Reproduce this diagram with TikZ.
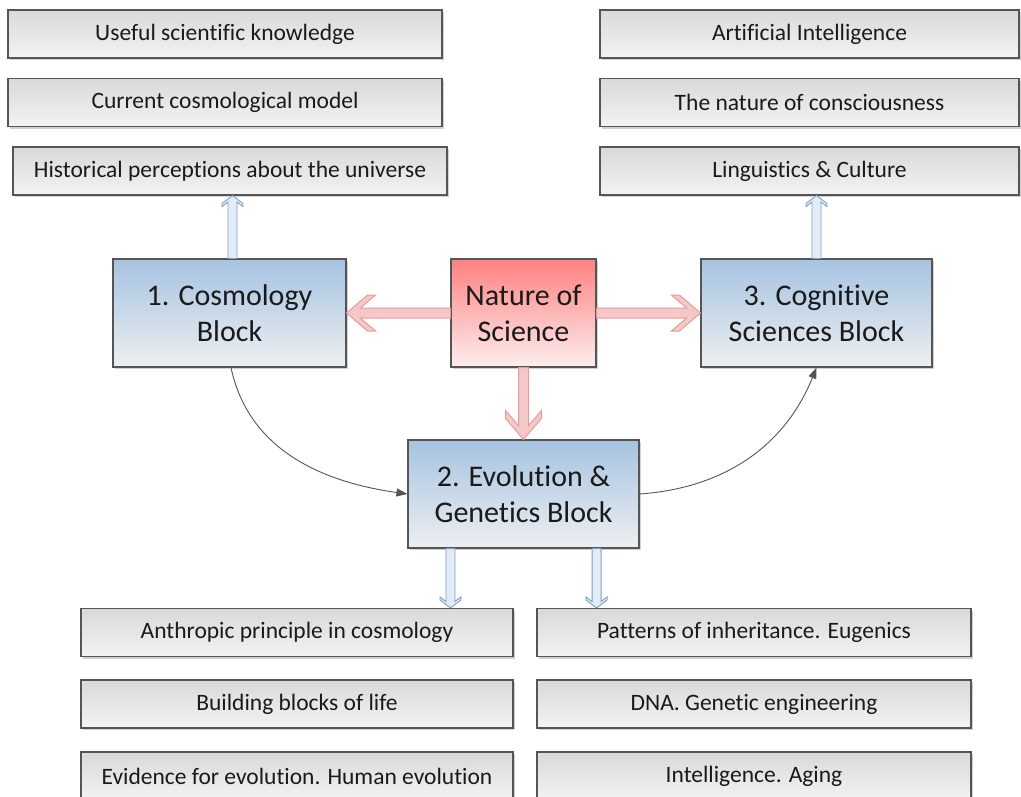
\documentclass[tikz,border=0pt]{standalone}
\usepackage{fontspec}
\setmainfont[Ligatures=NoCommon]{Carlito}
\usetikzlibrary{calc,arrows.meta,shadows}
\definecolor{boxline}{HTML}{555555}
\definecolor{itemtop}{HTML}{D9D9D9}
\definecolor{itembot}{HTML}{F3F3F3}
\definecolor{bluetop}{HTML}{A6C3E1}
\definecolor{bluebot}{HTML}{EDEFF1}
\definecolor{redtop}{HTML}{FF8080}
\definecolor{redbot}{HTML}{FCEEEE}
\definecolor{redline}{HTML}{E49C9C}
\definecolor{redfill}{HTML}{F5C8C8}
\definecolor{blueline}{HTML}{7C9EC8}
\definecolor{bluefill}{HTML}{E2ECF6}
\definecolor{curve}{HTML}{555555}
\definecolor{txt}{HTML}{1A1A1A}
\tikzset{
  base/.style={draw=boxline, line width=1.1pt, inner sep=0pt, anchor=center, text=txt,
    drop shadow={shadow xshift=2pt, shadow yshift=-2pt, opacity=0.18, fill=black}},
  itembox/.style={base, top color=itemtop, bottom color=itembot, minimum width=434pt,
    minimum height=48pt, font=\fontsize{23.5}{28}\selectfont},
  blockbox/.style={base, top color=bluetop, bottom color=bluebot, minimum width=231pt,
    minimum height=108pt, align=center, font=\fontsize{30}{36}\selectfont},
  natbox/.style={blockbox, top color=redtop, bottom color=redbot, minimum width=145pt},
  % fat chevron arrow: w=5, H=18, L=21, t=8
  redfat/.style={draw=redline, fill=redfill, line width=1pt,
    to path={
      ($(\tikztostart)!5pt!-90:(\tikztotarget)$)
      -- ($ ($(\tikztotarget)!13.83pt!(\tikztostart)$) !5pt!90:(\tikztostart) $)
      -- ($ ($(\tikztotarget)!29pt!(\tikztostart)$) !18pt!90:(\tikztostart) $)
      -- ($ ($(\tikztotarget)!21pt!(\tikztostart)$) !18pt!90:(\tikztostart) $)
      -- (\tikztotarget)
      -- ($ ($(\tikztotarget)!21pt!(\tikztostart)$) !18pt!-90:(\tikztostart) $)
      -- ($ ($(\tikztotarget)!29pt!(\tikztostart)$) !18pt!-90:(\tikztostart) $)
      -- ($ ($(\tikztotarget)!13.83pt!(\tikztostart)$) !5pt!-90:(\tikztostart) $)
      -- ($(\tikztostart)!5pt!90:(\tikztotarget)$)
      -- cycle}},
  % thin chevron arrow: w=4.5, H=10.5, L=8, t=3
  bluefat/.style={draw=blueline, fill=bluefill, line width=0.9pt,
    to path={
      ($(\tikztostart)!4.5pt!-90:(\tikztotarget)$)
      -- ($ ($(\tikztotarget)!6.43pt!(\tikztostart)$) !4.5pt!90:(\tikztostart) $)
      -- ($ ($(\tikztotarget)!11pt!(\tikztostart)$) !10.5pt!90:(\tikztostart) $)
      -- ($ ($(\tikztotarget)!8pt!(\tikztostart)$) !10.5pt!90:(\tikztostart) $)
      -- (\tikztotarget)
      -- ($ ($(\tikztotarget)!8pt!(\tikztostart)$) !10.5pt!-90:(\tikztostart) $)
      -- ($ ($(\tikztotarget)!11pt!(\tikztostart)$) !10.5pt!-90:(\tikztostart) $)
      -- ($ ($(\tikztotarget)!6.43pt!(\tikztostart)$) !4.5pt!-90:(\tikztostart) $)
      -- ($(\tikztostart)!4.5pt!90:(\tikztotarget)$)
      -- cycle}},
  flow/.style={draw=curve, line width=0.9pt, -{Triangle[length=11pt,width=8pt]}},
}
\begin{document}
\begin{tikzpicture}[x=1pt,y=1pt]
\useasboundingbox (0,0) rectangle (1021,-796);
% top left items
\node[itembox] (sk1) at (225,-34) {Useful scientific knowledge};
\node[itembox] (sk2) at (225,-102.5) {Current cosmological model};
\node[itembox] (sk3) at (230,-171) {Historical perceptions about the universe};
% top right items
\node[itembox, minimum width=419pt] (ai) at (809.5,-34) {Artificial Intelligence};
\node[itembox, minimum width=419pt] (nc) at (809.5,-102.5) {The nature of consciousness};
\node[itembox, minimum width=419pt] (lc) at (809.5,-171) {Linguistics \& Culture};
% blocks
\node[blockbox, minimum width=233pt] (cos) at (229.5,-313) {1. Cosmology\\Block};
\node[natbox] (nat) at (523.5,-313) {Nature of\\Science};
\node[blockbox] (cog) at (816.5,-313) {3. Cognitive\\Sciences Block};
\node[blockbox] (evo) at (523.5,-494) {2. Evolution \&\\Genetics Block};
% bottom items
\node[itembox, minimum width=432pt] (b1) at (297,-632.5) {Anthropic principle in cosmology};
\node[itembox, minimum width=432pt] (b2) at (297,-704) {Building blocks of life};
\node[itembox, minimum width=432pt] (b3) at (297,-776) {Evidence for evolution. Human evolution};
\node[itembox, minimum width=434pt] (c1) at (754,-632.5) {Patterns of inheritance. Eugenics};
\node[itembox, minimum width=434pt] (c2) at (754,-704) {DNA. Genetic engineering};
\node[itembox, minimum width=434pt] (c3) at (754,-776) {Intelligence. Aging};
% arrows from Nature of Science
\path[redfat] (nat.west) to (cos.east);
\path[redfat] (nat.east) to (cog.west);
\path[redfat] (nat.south) to (evo.north);
% thin block arrows
\path[bluefat] ([xshift=3pt]cos.north) to ([xshift=3pt]cos.north |- sk3.south);
\path[bluefat] (cog.north) to (cog.north |- lc.south);
\coordinate (e1) at ([xshift=43pt]evo.south west);
\coordinate (e2) at ([xshift=-43pt]evo.south east);
\path[bluefat] (e1) to (e1 |- b1.north);
\path[bluefat] (e2) to (e2 |- c1.north);
% curved flow
\draw[flow] ([xshift=1.5pt]cos.south) to[out=-78, in=172] (evo.west);
\draw[flow] (evo.east) to[out=4, in=-112] (cog.south);
\end{tikzpicture}
\end{document}
